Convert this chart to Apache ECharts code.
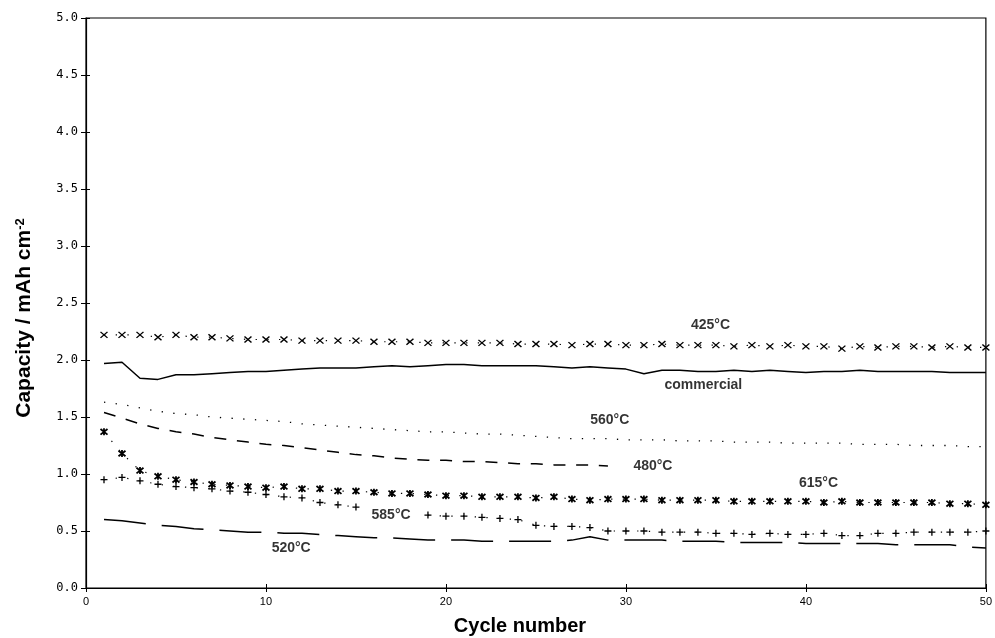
<!DOCTYPE html>
<html><head><meta charset="utf-8">
<script src="https://cdn.jsdelivr.net/npm/echarts@6/dist/echarts.min.js"></script>
<style>html,body{margin:0;padding:0;background:#fff}#c{width:995px;height:638px}</style>
</head><body><div id="c"></div>
<script>
// ---- data ----
const cycles = [1,2,3,4,5,6,7,8,9,10,11,12,13,14,15,16,17,18,19,20,21,22,23,24,25,26,27,28,29,30,31,32,33,34,35,36,37,38,39,40,41,42,43,44,45,46,47,48,49,50];
const s425 = [2.22,2.22,2.22,2.20,2.22,2.20,2.20,2.19,2.18,2.18,2.18,2.17,2.17,2.17,2.17,2.16,2.16,
              2.16,2.15,2.15,2.15,2.15,2.15,2.14,2.14,2.14,2.13,2.14,2.14,2.13,2.13,2.14,2.13,2.13,2.13,
              2.12,2.13,2.12,2.13,2.12,2.12,2.10,2.12,2.11,2.12,2.12,2.11,2.12,2.11,2.11];
const sCommercial = [1.97,1.98,1.84,1.83,1.87,1.87,1.88,1.89,1.90,1.90,1.91,1.92,1.93,1.93,1.93,1.94,1.95,1.94,1.95,1.96,
              1.96,1.95,1.95,1.95,1.95,1.94,1.93,1.94,1.93,1.92,1.88,1.91,1.91,1.90,1.90,1.91,1.90,1.91,1.90,1.89,
              1.90,1.90,1.91,1.90,1.90,1.90,1.90,1.89,1.89,1.89];
const s560 = [1.63,1.61,1.58,1.55,1.53,1.52,1.50,1.49,1.48,1.47,1.46,1.44,1.43,1.42,1.41,1.40,1.39,1.38,1.37,1.37,
              1.36,1.35,1.35,1.34,1.33,1.32,1.31,1.31,1.31,1.30,1.30,1.30,1.29,1.29,1.29,1.28,1.28,1.28,1.27,1.27,
              1.27,1.27,1.26,1.26,1.26,1.25,1.25,1.25,1.24,1.24];
const s480 = [1.54,1.49,1.44,1.40,1.37,1.35,1.32,1.30,1.28,1.26,1.25,1.23,1.21,1.19,1.17,1.16,1.14,1.13,1.12,1.12,
              1.11,1.11,1.10,1.09,1.09,1.08,1.08,1.08,1.07];
const s615 = [1.37,1.18,1.03,0.98,0.95,0.93,0.91,0.90,0.89,0.88,0.89,0.87,0.87,0.85,0.85,0.84,0.83,0.83,0.82,0.81,
              0.81,0.80,0.80,0.80,0.79,0.80,0.78,0.77,0.78,0.78,0.78,0.77,0.77,0.77,0.77,0.76,0.76,0.76,0.76,0.76,
              0.75,0.76,0.75,0.75,0.75,0.75,0.75,0.74,0.74,0.73];
const s585 = [0.95,0.97,0.94,0.91,0.89,0.88,0.87,0.85,0.84,0.82,0.80,0.79,0.75,0.73,0.71,null,null,null,0.64,0.63,
              0.63,0.62,0.61,0.60,0.55,0.54,0.54,0.53,0.50,0.50,0.50,0.49,0.49,0.49,0.48,0.48,0.47,0.48,0.47,0.47,
              0.48,0.46,0.46,0.48,0.48,0.49,0.49,0.49,0.49,0.50];
const s520 = [0.60,0.59,0.57,0.55,0.54,0.52,0.51,0.50,0.49,0.49,0.48,0.48,0.47,0.46,0.45,0.44,0.44,0.43,0.42,0.42,
              0.42,0.41,0.41,0.41,0.41,0.41,0.42,0.45,0.42,0.42,0.42,0.42,0.41,0.41,0.41,0.40,0.40,0.40,0.40,0.39,
              0.39,0.39,0.39,0.39,0.38,0.38,0.38,0.38,0.36,0.35];
const labelNames = ['425°C','commercial','560°C','480°C','615°C','585°C','520°C'];
const labelX = [34.7, 34.3, 29.1, 31.5, 40.7, 16.95, 11.4];
const labelY = [2.31, 1.78, 1.47, 1.07, 0.92, 0.64, 0.35];

// ---- chart ----
const pair = v => v.map((y, i) => [cycles[i], y]);
const K = '#000';
const dotted = [1.3, 10.4];
const sym = {
  x: 'path://M0,0L10,10M10,0L0,10',
  star: 'path://M0,1L10,9M10,1L0,9M5,0L5,10',
  plus: 'path://M5,0L5,10M0,5L10,5'
};
const font = 'Liberation Sans, Arial, sans-serif';
const chart = echarts.init(document.getElementById('c'), null, {renderer: 'canvas'});
const axisCommon = {type: 'value', splitLine: {show: false}};
chart.setOption({
  animation: false,
  backgroundColor: '#fff',
  grid: {left: 86, right: 5, top: 18, bottom: 50, show: true, borderColor: K, borderWidth: 1.2},
  xAxis: [
    Object.assign({}, axisCommon, {min: 0, max: 50, interval: 10, position: 'bottom',
      axisLine: {show: true, lineStyle: {color: K, width: 1.2}},
      axisTick: {show: true, length: 4, lineStyle: {color: K, width: 1}},
      axisLabel: {show: true, color: K, fontSize: 11, fontFamily: font, margin: 8}}),
    Object.assign({}, axisCommon, {min: 0, max: 50, interval: 10, position: 'bottom',
      axisLine: {show: false}, axisTick: {show: true, inside: true, length: 4, lineStyle: {color: K, width: 1}},
      axisLabel: {show: false}})
  ],
  yAxis: [
    Object.assign({}, axisCommon, {min: 0, max: 5, interval: 0.5, position: 'left',
      axisLine: {show: true, lineStyle: {color: K, width: 1.2}},
      axisTick: {show: true, length: 5, lineStyle: {color: K, width: 1}},
      axisLabel: {show: true, color: K, fontSize: 12, fontFamily: 'DejaVu Sans Mono, monospace', margin: 8,
        formatter: v => v.toFixed(1)}}),
    Object.assign({}, axisCommon, {min: 0, max: 5, interval: 0.5, position: 'left',
      axisLine: {show: false}, axisTick: {show: true, inside: true, length: 4, lineStyle: {color: K, width: 1}},
      axisLabel: {show: false}})
  ],
  series: [
    {name: '425°C', type: 'line', data: pair(s425), symbol: sym.x, symbolSize: [7, 6], showSymbol: true,
      itemStyle: {color: K, borderColor: K, borderWidth: 1.3}, lineStyle: {color: K, width: 1.2, type: dotted}},
    {name: 'commercial', type: 'line', data: pair(sCommercial), symbol: 'none',
      lineStyle: {color: K, width: 1.5}},
    {name: '560°C', type: 'line', data: pair(s560), symbol: 'none',
      lineStyle: {color: K, width: 1.3, type: dotted}},
    {name: '480°C', type: 'line', data: pair(s480), symbol: 'none',
      lineStyle: {color: K, width: 1.5, type: [12, 10.7]}},
    {name: '615°C', type: 'line', data: pair(s615), symbol: sym.star, symbolSize: 7, showSymbol: true,
      itemStyle: {color: K, borderColor: K, borderWidth: 1.8}, lineStyle: {color: K, width: 1.2, type: dotted}},
    {name: '585°C', type: 'line', data: pair(s585), symbol: sym.plus, symbolSize: 7, showSymbol: true, connectNulls: false,
      itemStyle: {color: K, borderColor: K, borderWidth: 1.3}, lineStyle: {color: K, width: 1.2, type: dotted}},
    {name: '520°C', type: 'line', data: pair(s520), symbol: 'none',
      lineStyle: {color: K, width: 1.5, type: [42, 16]}},
    {name: 'labels', type: 'scatter', symbolSize: 1, itemStyle: {color: 'rgba(0,0,0,0)'}, silent: true,
      data: labelNames.map((n, i) => ({name: n, value: [labelX[i], labelY[i]]})),
      label: {show: true, position: 'inside', formatter: '{b}', color: K, fontSize: 14, fontWeight: 'bold', fontFamily: font}}
  ],
  graphic: [
    {type: 'text', x: 24, y: 318, rotation: Math.PI / 2, silent: true,
      style: {text: '{a|Capacity / mAh cm}{s|-2}', align: 'center', verticalAlign: 'middle', fill: K,
        rich: {a: {fontSize: 21, fontWeight: 'bold', fontFamily: font, fill: K},
               s: {fontSize: 13, fontWeight: 'bold', fontFamily: font, verticalAlign: 'top', fill: K}}}},
    {type: 'text', x: 520, y: 626, silent: true,
      style: {text: 'Cycle number', align: 'center', verticalAlign: 'middle', fill: K,
        fontSize: 20, fontWeight: 'bold', fontFamily: font}}
  ]
});
</script></body></html>
